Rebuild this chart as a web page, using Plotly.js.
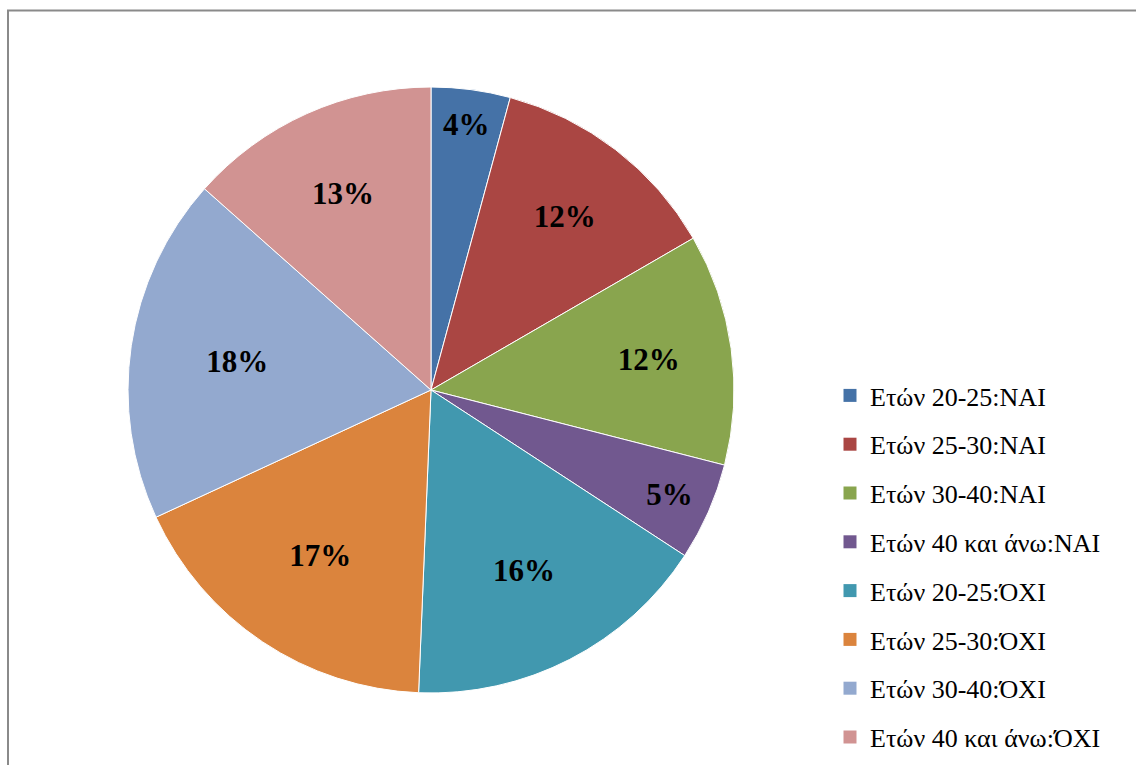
<!DOCTYPE html>
<html>
<head>
<meta charset="utf-8">
<script src="https://cdn.plot.ly/plotly-3.0.1.min.js"></script>
<style>
html,body{margin:0;padding:0;background:#fff;}
#chart{width:1136px;height:765px;}
</style>
</head>
<body>
<div id="chart"></div>
<script>
var categories = ["Ετών 20-25:NAI","Ετών 25-30:NAI","Ετών 30-40:NAI","Ετών 40 και άνω:NAI","Ετών 20-25:ΌΧΙ","Ετών 25-30:ΌΧΙ","Ετών 30-40:ΌΧΙ","Ετών 40 και άνω:ΌΧΙ"];
var values = [4.2, 12.4, 12.3, 5.2, 16.4, 17.4, 18.4, 13.4];
var colors = ["#4572A7","#AA4643","#89A54E","#71588F","#4198AF","#DB843D","#93A9CF","#D19392"];

var W = 1136, H = 765;
var cx = 431, cy = 390, R = 303;

var traces = [{
  type: 'pie',
  labels: categories,
  values: values,
  sort: false,
  direction: 'clockwise',
  rotation: 0,
  marker: {colors: colors, line: {color: '#ffffff', width: 1}},
  textposition: 'inside',
  insidetextorientation: 'horizontal',
  texttemplate: '%{percent:.0%}',
  textfont: {family: 'Liberation Serif, Times New Roman, serif', size: 31, color: '#000000', weight: 'bold'},
  hoverinfo: 'label+percent',
  showlegend: false,
  domain: {x: [(cx - R) / W, (cx + R) / W], y: [(H - cy - R) / H, (H - cy + R) / H]}
}];

categories.forEach(function (c, i) {
  traces.push({
    type: 'scatter', mode: 'markers', x: [null], y: [null],
    name: c, legendgroup: 'g' + i, showlegend: true,
    marker: {symbol: 'square', size: 13, color: colors[i]},
    hoverinfo: 'skip'
  });
});

var layout = {
  width: W, height: H,
  margin: {l: 0, r: 0, t: 0, b: 0},
  paper_bgcolor: '#ffffff',
  plot_bgcolor: 'rgba(0,0,0,0)',
  showlegend: true,
  uniformtext: {mode: 'show', minsize: 31},
  xaxis: {visible: false, domain: [0.99, 1]},
  yaxis: {visible: false, domain: [0.99, 1]},
  legend: {
    x: 830 / W, y: 1 - 372 / H, xanchor: 'left', yanchor: 'top',
    font: {family: 'Liberation Serif, Times New Roman, serif', size: 26, color: '#000000'},
    itemwidth: 30,
    tracegroupgap: 12,
    bgcolor: 'rgba(0,0,0,0)'
  },
  shapes: [{
    type: 'rect', xref: 'paper', yref: 'paper',
    x0: 8 / W, x1: 1.2, y0: -0.2, y1: (H - 10.5) / H,
    line: {color: '#8a8a8a', width: 2}, fillcolor: 'rgba(0,0,0,0)', layer: 'below'
  }]
};

Plotly.newPlot('chart', traces, layout, {displayModeBar: false, staticPlot: true});
</script>
</body>
</html>
